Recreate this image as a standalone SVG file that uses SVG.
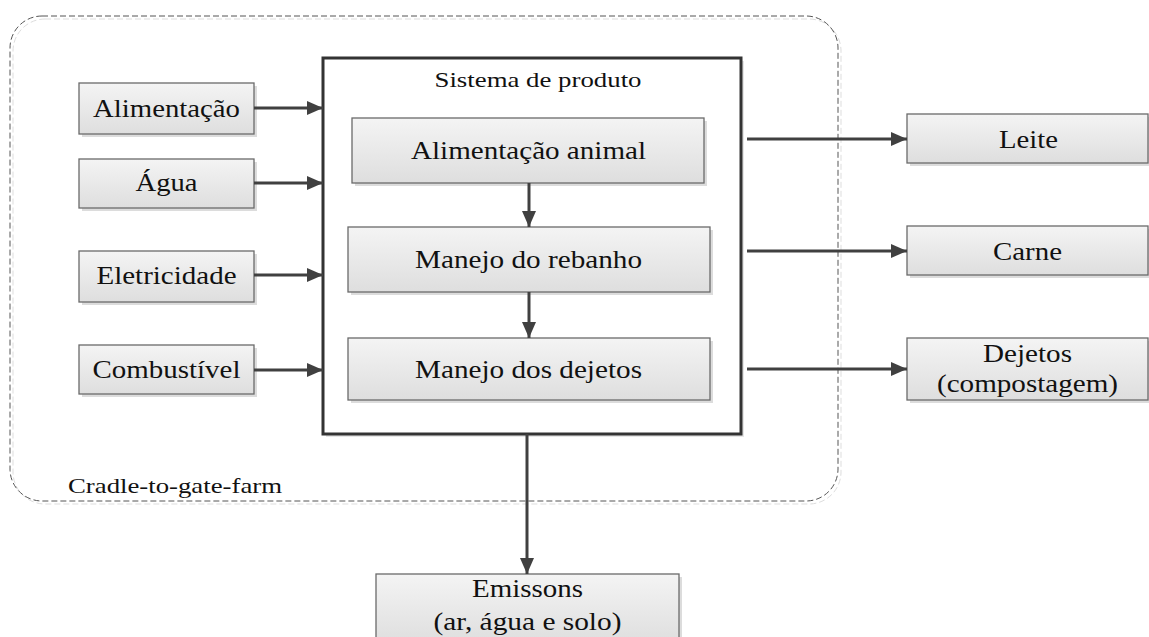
<svg xmlns="http://www.w3.org/2000/svg" width="1149" height="637" viewBox="0 0 1149 637">
<defs>
<linearGradient id="g" x1="0" y1="0" x2="0" y2="1">
<stop offset="0" stop-color="#f4f4f4"/>
<stop offset="1" stop-color="#dedede"/>
</linearGradient>
<marker id="ah" markerUnits="userSpaceOnUse" markerWidth="16" markerHeight="16" viewBox="0 0 16 16" refX="16" refY="8" orient="auto">
<path d="M0,1 L16,8 L0,15 Z" fill="#404040"/>
</marker>
<style>
.box{fill:url(#g);stroke:#6a6a6a;stroke-width:1.3}
.sh{fill:#dcdcdc}
.t{font-family:"Liberation Serif","Times New Roman",serif;font-size:25px;fill:#111;text-anchor:middle}
.s{font-family:"Liberation Serif","Times New Roman",serif;font-size:22px;fill:#111}
.c{stroke:#404040;stroke-width:3;fill:none;marker-end:url(#ah)}
</style>
</defs>
<rect width="1149" height="637" fill="#fff"/>
<g id="boundary">
<rect x="13" y="19" width="828" height="485" rx="32" fill="none" stroke="#dddddd" stroke-width="1" stroke-dasharray="6,3"/>
<rect x="10" y="16" width="828" height="485" rx="32" fill="none" stroke="#555" stroke-width="1" stroke-dasharray="6,3"/>
<text class="s" x="68" y="493" textLength="214" lengthAdjust="spacingAndGlyphs">Cradle-to-gate-farm</text>
</g>
<g id="sistema">
<rect x="326" y="61" width="418" height="376" fill="#e6e6e6"/>
<rect x="323" y="58" width="418" height="376" fill="#fff" stroke="#333" stroke-width="3"/>
<text class="s" x="538" y="87" text-anchor="middle" textLength="207" lengthAdjust="spacingAndGlyphs">Sistema de produto</text>
</g>
<g id="alimentacao">
<rect class="sh" x="82" y="86" width="175" height="51"/>
<rect class="box" x="79" y="83" width="175" height="51"/>
<text class="t" x="166.5" y="117" textLength="147" lengthAdjust="spacingAndGlyphs">Alimentação</text>
</g>
<g id="agua">
<rect class="sh" x="82" y="162" width="175" height="49"/>
<rect class="box" x="79" y="159" width="175" height="49"/>
<text class="t" x="166.5" y="191" textLength="62" lengthAdjust="spacingAndGlyphs">Água</text>
</g>
<g id="eletricidade">
<rect class="sh" x="82" y="254" width="175" height="51"/>
<rect class="box" x="79" y="251" width="175" height="51"/>
<text class="t" x="166.5" y="284" textLength="140" lengthAdjust="spacingAndGlyphs">Eletricidade</text>
</g>
<g id="combustivel">
<rect class="sh" x="82" y="348" width="175" height="49"/>
<rect class="box" x="79" y="345" width="175" height="49"/>
<text class="t" x="166.5" y="378" textLength="148" lengthAdjust="spacingAndGlyphs">Combustível</text>
</g>
<g id="alimentacao-animal">
<rect class="sh" x="355" y="121" width="352" height="65"/>
<rect class="box" x="352" y="118" width="352" height="65"/>
<text class="t" x="528.5" y="159" textLength="235" lengthAdjust="spacingAndGlyphs">Alimentação animal</text>
</g>
<g id="manejo-rebanho">
<rect class="sh" x="351" y="230" width="362" height="65"/>
<rect class="box" x="348" y="227" width="362" height="65"/>
<text class="t" x="528.5" y="268" textLength="227" lengthAdjust="spacingAndGlyphs">Manejo do rebanho</text>
</g>
<g id="manejo-dejetos">
<rect class="sh" x="351" y="341" width="362" height="62"/>
<rect class="box" x="348" y="338" width="362" height="62"/>
<text class="t" x="528.5" y="378" textLength="227" lengthAdjust="spacingAndGlyphs">Manejo dos dejetos</text>
</g>
<g id="leite">
<rect class="sh" x="910" y="117" width="241" height="49"/>
<rect class="box" x="907" y="114" width="241" height="49"/>
<text class="t" x="1028.5" y="148" textLength="59" lengthAdjust="spacingAndGlyphs">Leite</text>
</g>
<g id="carne">
<rect class="sh" x="910" y="229" width="241" height="49"/>
<rect class="box" x="907" y="226" width="241" height="49"/>
<text class="t" x="1027.5" y="260" textLength="69" lengthAdjust="spacingAndGlyphs">Carne</text>
</g>
<g id="dejetos">
<rect class="sh" x="910" y="341" width="241" height="62"/>
<rect class="box" x="907" y="338" width="241" height="62"/>
<text class="t" x="1027.5" y="362" textLength="89" lengthAdjust="spacingAndGlyphs">Dejetos</text>
<text class="t" x="1027.5" y="392" textLength="181" lengthAdjust="spacingAndGlyphs">(compostagem)</text>
</g>
<g id="emissoes">
<rect class="sh" x="379" y="577" width="303" height="70"/>
<rect class="box" x="376" y="574" width="303" height="70"/>
<text class="t" x="527.5" y="597" textLength="111" lengthAdjust="spacingAndGlyphs">Emissons</text>
<text class="t" x="527.5" y="630" textLength="188" lengthAdjust="spacingAndGlyphs">(ar, água e solo)</text>
</g>
<g id="connectors">
<line class="c" x1="254" y1="108" x2="323" y2="108"/>
<line class="c" x1="254" y1="183" x2="323" y2="183"/>
<line class="c" x1="254" y1="275" x2="323" y2="275"/>
<line class="c" x1="254" y1="370" x2="323" y2="370"/>
<line class="c" x1="529" y1="183" x2="529" y2="227"/>
<line class="c" x1="529" y1="292" x2="529" y2="338"/>
<line class="c" x1="747" y1="139" x2="907" y2="139"/>
<line class="c" x1="747" y1="251" x2="907" y2="251"/>
<line class="c" x1="747" y1="369" x2="907" y2="369"/>
<line class="c" x1="527" y1="434" x2="527" y2="574"/>
</g>
</svg>
